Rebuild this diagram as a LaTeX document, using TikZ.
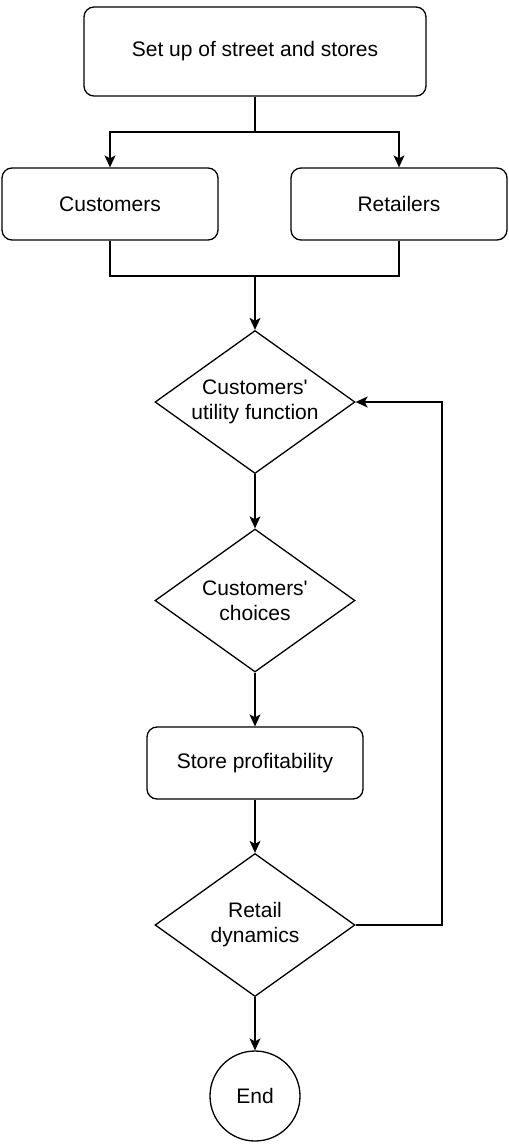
\documentclass[tikz,border=0pt]{standalone}
\usepackage{fontspec}
\setmainfont{Liberation Sans}
\usetikzlibrary{shapes.geometric,arrows.meta}
\begin{document}
\begin{tikzpicture}[x=1pt,y=-1pt,
  every node/.style={font=\fontsize{21}{25}\selectfont, align=center},
  box/.style={draw, line width=1.3pt, rounded corners=10pt, inner sep=0pt},
  dia/.style={draw, line width=1.3pt, diamond, inner sep=0pt, minimum width=200pt, minimum height=143pt},
  conn/.style={line width=1.3pt, -{Stealth[length=12pt,width=11pt,inset=3pt]}},
  line/.style={line width=1.3pt}]
\useasboundingbox (0,0) rectangle (509,1144);
\node[box, minimum width=342pt, minimum height=89pt] (top) at (255,51.5) {Set up of street and stores};
\node[box, minimum width=216pt, minimum height=72pt] (cust) at (110,204) {Customers};
\node[box, minimum width=216pt, minimum height=72pt] (ret) at (399,204) {Retailers};
\node[dia, label={[align=center]center:Customers\textquotesingle\\utility function}] (util) at (255,402) {};
\node[dia, label={[align=center]center:Customers\textquotesingle\\choices}] (choice) at (255,600.5) {};
\node[box, minimum width=216pt, minimum height=72pt] (prof) at (255,763) {Store profitability};
\node[dia, label={[align=center]center:Retail\\dynamics}] (dyn) at (255,925) {};
\node[draw, line width=1.3pt, circle, minimum size=90pt, inner sep=0pt] (end) at (255,1096) {End};
\coordinate (split) at (255,132);
\coordinate (join) at (255,276);
\coordinate (loop) at (442,925);
\draw[line] (top.south) -- (split);
\draw[conn] (split) -| (cust.north);
\draw[conn] (split) -| (ret.north);
\draw[line] (cust.south) |- (join);
\draw[line] (ret.south) |- (join);
\draw[conn] (join) -- (util.north);
\draw[conn] (util.south) -- (choice.north);
\draw[conn] (choice.south) -- (prof.north);
\draw[conn] (prof.south) -- (dyn.north);
\draw[conn] (dyn.east) -- (loop) |- (util.east);
\draw[conn] (dyn.south) -- (end.north);
\end{tikzpicture}
\end{document}
